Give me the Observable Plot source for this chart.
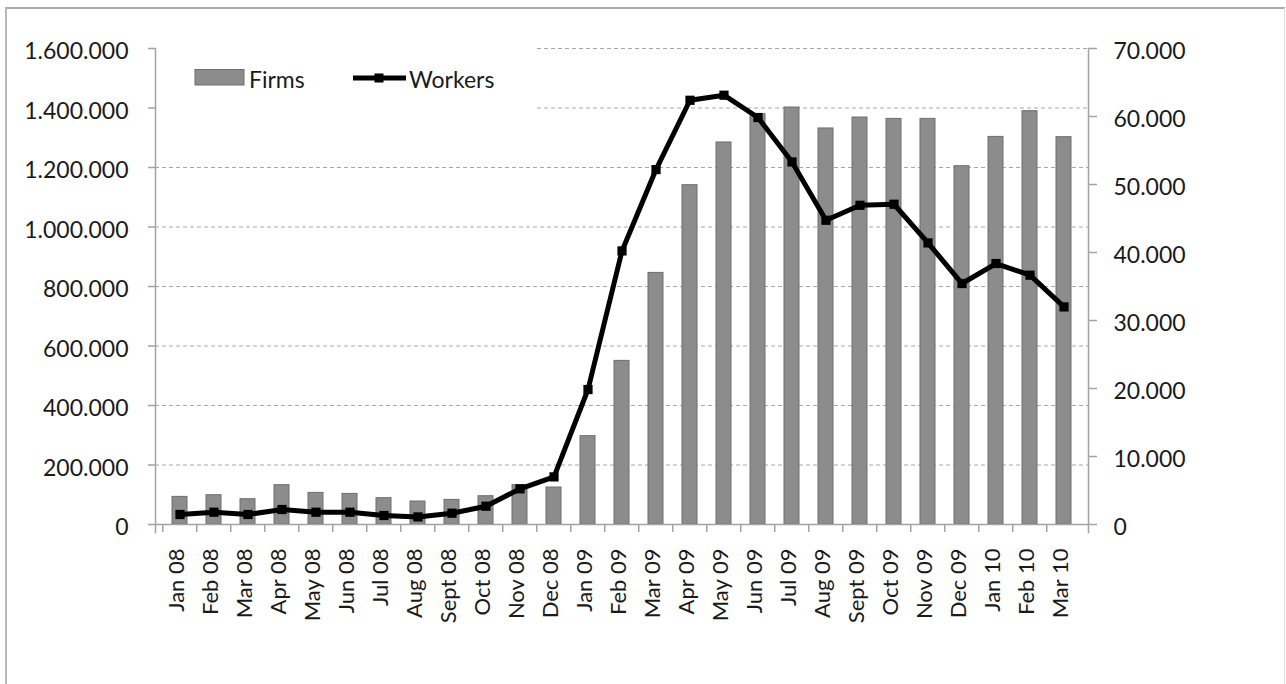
<!DOCTYPE html>
<html>
<head>
<meta charset="utf-8">
<script src="https://cdn.jsdelivr.net/npm/d3@7"></script>
<script src="https://cdn.jsdelivr.net/npm/@observablehq/plot@0.6"></script>
<style>
  html, body { margin: 0; padding: 0; background: #fff; overflow: hidden; }
  #wrap { position: relative; width: 1286px; height: 684px; font-family: Lato, "Open Sans", sans-serif; }
  #border { position: absolute; left: 5px; top: 7px; width: 1277px; height: 700px;
            border-top: 2px solid #ababab; border-left: 2px solid #b8b8b8; border-right: 1px solid #dcdcdc;
            pointer-events: none; }
  #legend { position: absolute; left: 0; top: 0; pointer-events: none; }
</style>
</head>
<body>
<div id="wrap">
  <div id="chart"></div>
  <svg id="legend" width="1286" height="684"></svg>
  <div id="border"></div>
</div>
<script>
const months = ["Jan 08","Feb 08","Mar 08","Apr 08","May 08","Jun 08","Jul 08","Aug 08","Sept 08","Oct 08","Nov 08","Dec 08",
  "Jan 09","Feb 09","Mar 09","Apr 09","May 09","Jun 09","Jul 09","Aug 09","Sept 09","Oct 09","Nov 09","Dec 09",
  "Jan 10","Feb 10","Mar 10"];
const firms = [4060,4310,3720,5780,4650,4500,3870,3380,3620,4160,5780,5440,
  12990,24060,37000,49900,56180,60340,61320,58240,59850,59650,59650,52690,
  57000,60780,56960];
const workers = [33600,41300,33600,50400,41300,41300,30200,25500,38000,61500,120000,160000,
  453700,919600,1193000,1426000,1443000,1368000,1218700,1022700,1073000,1076500,946500,810000,
  877200,838000,731400];
const leftTicks = [0,200000,400000,600000,800000,1000000,1200000,1400000,1600000];
const rightTicks = [0,10000,20000,30000,40000,50000,60000,70000];
const seriesNames = ["Firms","Workers"];

const leftMax = 1600000, rightMax = 70000;
const k = leftMax / rightMax;
const data = months.map((m, i) => ({month: m, firms: firms[i], workers: workers[i]}));
const fmt = d3.formatLocale({decimal: ",", thousands: ".", grouping: [3], currency: ["", ""]}).format(",d");

const W = 1286, H = 684, mL = 155, mR = 198, mT = 48, mB = 160;
const step = (W - mL - mR) / months.length;
const axisColor = "#a3a3a3";
const gridColor = "#a8a8a8";
const barFill = "#8c8c8c", barStroke = "#6e6e6e";

const chart = Plot.plot({
  width: W, height: H,
  marginLeft: mL, marginRight: mR, marginTop: mT, marginBottom: mB,
  style: {fontFamily: "Lato, 'Open Sans', sans-serif", fontSize: "23px", color: "#1a1a1a", background: "transparent"},
  x: {domain: months, paddingInner: 0.56, paddingOuter: 0.28, align: 0.5, label: null},
  y: {domain: [0, leftMax], label: null},
  marks: [
    Plot.ruleY(leftTicks.filter(v => v > 0 && v <= 1200000), {stroke: gridColor, strokeDasharray: "4,3", strokeWidth: 1}),
    Plot.ruleY(leftTicks.filter(v => v > 1200000), {stroke: gridColor, strokeDasharray: "4,3", strokeWidth: 1, insetLeft: 382}),
    Plot.barY(data, {x: "month", y: d => d.firms * k, fill: barFill, stroke: barStroke, strokeWidth: 1}),
    Plot.ruleY([0], {stroke: axisColor, strokeWidth: 1.5}),
    Plot.frame({anchor: "left", stroke: axisColor, strokeWidth: 1.5, insetBottom: -8}),
    Plot.frame({anchor: "right", stroke: axisColor, strokeWidth: 1.5, insetBottom: -8}),
    Plot.line(data, {x: "month", y: "workers", stroke: "black", strokeWidth: 5, strokeLinejoin: "round"}),
    Plot.dot(data, {x: "month", y: "workers", symbol: "square", r: 5.2, fill: "black", stroke: "none"}),
    // left axis
    Plot.axisY({anchor: "left", ticks: leftTicks, tickSize: 7, text: null, label: null, stroke: axisColor, strokeWidth: 1.5}),
    Plot.axisY({anchor: "left", ticks: leftTicks, tickSize: 0, tickPadding: 27, dy: 3.5, label: null, tickFormat: fmt, fill: "#1a1a1a"}),
    // right axis (firms)
    Plot.axisY({anchor: "right", ticks: rightTicks.map(v => v * k), tickSize: 8, text: null, label: null, stroke: axisColor, strokeWidth: 1.5}),
    Plot.axisY({anchor: "right", ticks: rightTicks.map(v => v * k), tickSize: 0, tickPadding: 25, dy: 3.5, label: null,
      tickFormat: v => fmt(Math.round(v / k)), fill: "#1a1a1a"}),
    // x axis
    Plot.axisX({ticks: months, tickSize: 8, text: null, label: null, dx: -step / 2, stroke: axisColor, strokeWidth: 1.5}),
    Plot.axisX({ticks: months, tickSize: 0, tickPadding: 24, tickRotate: -90, label: null, dx: -3, fill: "#1a1a1a", fontSize: 22})
  ]
});
document.getElementById("chart").appendChild(chart);

// legend inside the plot area
const lg = d3.select("#legend");
lg.append("rect").attr("x", 195).attr("y", 69.5).attr("width", 49).attr("height", 15.5)
  .attr("fill", barFill).attr("stroke", barStroke).attr("stroke-width", 1);
lg.append("text").attr("x", 249).attr("y", 88).text(seriesNames[0])
  .attr("font-family", "Lato, 'Open Sans', sans-serif").attr("font-size", 23).attr("fill", "#1a1a1a");
lg.append("line").attr("x1", 353).attr("x2", 406).attr("y1", 78).attr("y2", 78)
  .attr("stroke", "black").attr("stroke-width", 5);
lg.append("rect").attr("x", 374.5).attr("y", 73.5).attr("width", 9).attr("height", 9).attr("fill", "black");
lg.append("text").attr("x", 409).attr("y", 88).text(seriesNames[1])
  .attr("font-family", "Lato, 'Open Sans', sans-serif").attr("font-size", 23).attr("fill", "#1a1a1a");
</script>
</body>
</html>
